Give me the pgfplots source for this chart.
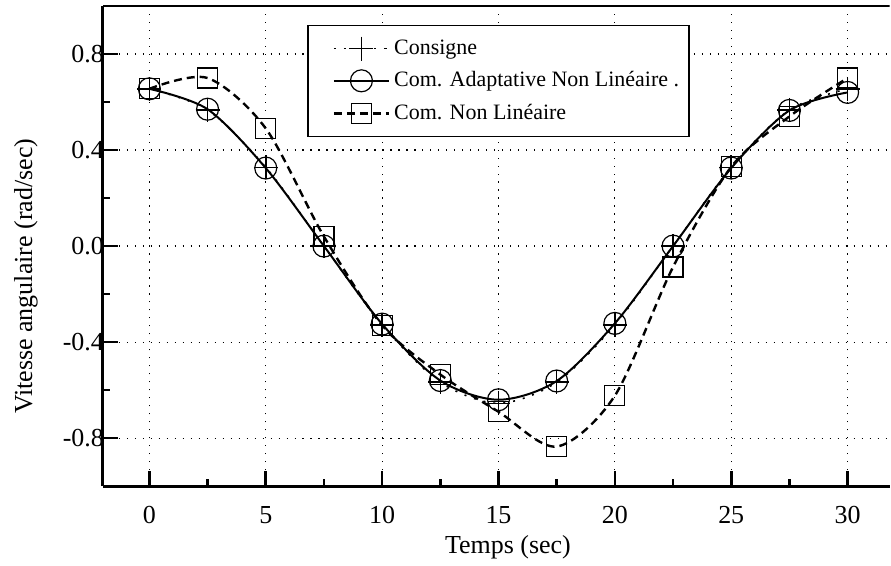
\documentclass[border=0pt]{standalone}
\usepackage{fontspec}
\setmainfont{Liberation Serif}
\usepackage{pgfplots}
\pgfplotsset{compat=1.18}
\begin{document}
\begin{tikzpicture}
\begin{axis}[
  name=ax,
  scale only axis, width=394pt, height=240.5pt,
  xmin=-2, xmax=31.8, ymin=-1, ymax=1,
  axis x line*=bottom, axis y line*=left,
  axis line style={line width=1.5pt},
  xtick={0,5,...,30}, minor xtick={2.5,7.5,...,27.5},
  ytick={-0.8,-0.4,0,0.4,0.8}, minor ytick={-0.6,-0.2,0.2,0.6},
  tick align=inside,
  major tick length=7.5pt, minor tick length=3.5pt,
  every tick/.style={line width=1.3pt, black},
  grid=major,
  major grid style={black, line width=0.6pt, dash pattern=on 0.6pt off 3.4pt},
  /pgf/number format/assume math mode=true,
  tick label style={font=\fontsize{13}{15}\selectfont},
  yticklabel style={/pgf/number format/fixed, /pgf/number format/fixed zerofill,
    /pgf/number format/precision=1, anchor=east, inner sep=0pt, xshift=0.75pt},
  xticklabel style={anchor=center, yshift=-14.5pt},
  label style={font=\fontsize{13}{15}\selectfont},
  xlabel={Temps (sec)}, ylabel={Vitesse angulaire (rad/sec)},
  xlabel style={at={(axis description cs:0.515,-0.127)}, anchor=center},
  ylabel style={at={(axis description cs:-0.0977,0.437)}, anchor=center},
  legend style={at={(0.26,0.96)}, anchor=north west, draw=black, line width=0.6pt,
    font=\fontsize{11}{13.5}\selectfont,
    row sep=3.2pt, inner xsep=3pt, inner ysep=5pt},
  legend cell align=left,
  legend image code/.code={%
    \path (0cm,0cm);
    \draw[mark repeat=2, mark phase=2] plot coordinates {(0.33cm,0cm) (0.815cm,0cm) (1.3cm,0cm)};},
]
\addplot[black, line width=0.8pt, dash pattern=on 1pt off 4pt, smooth,
  mark=+, mark size=6pt, mark options={solid, line width=0.8pt}]
  coordinates {(0,0.655) (2.5,0.567) (5,0.328) (7.5,0) (10,-0.328) (12.5,-0.567) (15,-0.655)
  (17.5,-0.567) (20,-0.328) (22.5,0) (25,0.328) (27.5,0.567) (30,0.655)};
\addlegendentry{Consigne}
\addplot[black, line width=1pt, smooth,
  mark=o, mark size=5.5pt, mark options={solid, line width=0.6pt}]
  coordinates {(0,0.655) (2.5,0.57) (5,0.325) (7.5,0.0) (10,-0.325) (12.5,-0.56) (15,-0.64)
  (17.5,-0.562) (20,-0.322) (22.5,0.0) (25,0.325) (27.5,0.565) (30,0.64)};
\addlegendentry{Com. Adaptative Non Linéaire .}
\addplot[black, line width=1.2pt, dash pattern=on 4pt off 2.5pt, smooth,
  mark=square, mark size=5pt, mark options={solid, line width=0.6pt}]
  coordinates {(0,0.655) (2.5,0.70) (5,0.49) (7.5,0.04) (10,-0.33) (12.5,-0.535) (15,-0.69)
  (17.5,-0.835) (20,-0.623) (22.5,-0.087) (25,0.33) (27.5,0.54) (30,0.70)};
\addlegendentry{Com. Non Linéaire}
\draw[line width=1.5pt] (rel axis cs:0,1) -- (rel axis cs:1,1);
\end{axis}
\path (ax.south west) ++(-51.5pt,-39pt);
\path (ax.north east) ++(0,3pt);
\end{tikzpicture}
\end{document}
